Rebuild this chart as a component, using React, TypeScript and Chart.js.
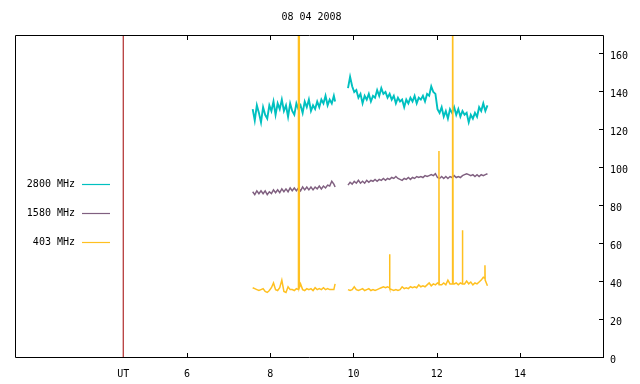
import React, { useEffect, useRef } from 'react';
import { Chart, registerables } from 'chart.js';

Chart.register(...registerables);

const TITLE = '08 04 2008';
const FONT = 'DejaVu Sans Mono';
const seriesNames = ['2800 MHz', '1580 MHz', '403 MHz'];
const seriesColors = ['#00c0c0', '#806080', '#ffc020'];
const markerColor = '#a00000';
const utHour = 4.47;
const xMin = 1.87;
const xMax = 16.02;
const xTickValues = [6, 8, 10, 12, 14];
const yTickValues = [0, 20, 40, 60, 80, 100, 120, 140, 160];
const yMax = 170;

// sample times (UT hours), two observing blocks
const times1 = [
  7.58, 7.63, 7.68, 7.73, 7.78, 7.83, 7.88, 7.93, 7.98, 8.03,
  8.08, 8.13, 8.18, 8.23, 8.28, 8.33, 8.38, 8.43, 8.48, 8.53,
  8.58, 8.63, 8.68, 8.73, 8.78, 8.83, 8.88, 8.93, 8.98, 9.03,
  9.08, 9.13, 9.18, 9.23, 9.28, 9.33, 9.38, 9.43, 9.48, 9.53, 9.56,
];
const times2 = [
  9.87, 9.92, 9.97, 10.02, 10.07, 10.12, 10.17, 10.22, 10.27, 10.32,
  10.37, 10.42, 10.47, 10.52, 10.57, 10.62, 10.67, 10.72, 10.77, 10.82,
  10.87, 10.92, 10.97, 11.02, 11.07, 11.12, 11.17, 11.22, 11.27, 11.32,
  11.37, 11.42, 11.47, 11.52, 11.57, 11.62, 11.67, 11.72, 11.77, 11.82,
  11.87, 11.92, 11.97, 12.02, 12.07, 12.12, 12.17, 12.22, 12.27, 12.32,
  12.37, 12.42, 12.47, 12.52, 12.57, 12.62, 12.67, 12.72, 12.77, 12.82,
  12.87, 12.92, 12.97, 13.02, 13.07, 13.12, 13.17, 13.22,
];

const f2800a = [
  131, 125, 133, 129, 124, 132, 128, 126, 133, 130,
  135, 128, 134, 131, 136, 130, 133, 127, 134, 130,
  128, 134, 131, 133, 129, 135, 132, 136, 130, 133,
  131, 135, 132, 136, 134, 138, 133, 136, 134, 138, 135,
];
const f2800b = [
  142, 148, 143, 140, 141, 137, 139, 134, 138, 136,
  139, 135, 138, 137, 141, 138, 142, 139, 140, 137,
  139, 136, 138, 134, 137, 135, 136, 132, 136, 134,
  137, 135, 138, 134, 137, 136, 138, 135, 139, 138,
  143, 140, 139, 131, 129, 132, 127, 130, 126, 131,
  129, 132, 128, 131, 127, 130, 128, 129, 124, 128,
  126, 129, 127, 132, 130, 134, 130, 133,
];

const f1580a = [
  87.5, 86, 88, 86.5, 88, 86.5, 88, 86, 87.5, 86.5,
  88.5, 87, 88.5, 87, 89, 87.5, 89, 87.5, 89.5, 88,
  89.5, 88, 89.5, 88, 90, 88.5, 90, 88.5, 90, 88.5,
  90, 89, 90.5, 89, 90.5, 89.5, 91, 90.5, 93, 91.5, 90,
];
const f1580b = [
  91, 92.5, 91.5, 93, 92, 93.5, 92, 93, 92, 93.5,
  92.5, 93.5, 93, 94, 93, 94, 93.5, 94.5, 93.5, 94.5,
  94, 95, 94.5, 95.5, 94.5, 94, 93.5, 94.5, 94, 95,
  94, 95, 94.5, 95.5, 95, 95.5, 95, 96, 95.5, 96,
  96.5, 96, 97, 95, 94.5, 95.5, 94.5, 95.5, 94.5, 95.5,
  95, 96, 95, 95.5, 95, 96, 96.5, 97, 96.5, 96,
  96.5, 95.5, 96.5, 95.5, 96.5, 96, 96.5, 97,
];

// 403 MHz has its own time stamps (extra samples around the bursts)
const times403a = [
  7.58, 7.63, 7.68, 7.73, 7.78, 7.83, 7.88, 7.93, 7.98, 8.03,
  8.08, 8.13, 8.18, 8.23, 8.28, 8.33, 8.38, 8.43, 8.48, 8.53,
  8.58, 8.63, 8.675, 8.68, 8.695, 8.70,
  8.73, 8.78, 8.83, 8.88, 8.93, 8.98, 9.03, 9.08, 9.13, 9.18,
  9.23, 9.28, 9.33, 9.38, 9.43, 9.48, 9.53, 9.56,
];
const f403a = [
  37, 36.5, 36, 35.5, 36, 36.5, 35, 34.5, 35.5, 37,
  39.5, 36, 35.5, 37, 41, 35, 34.5, 37.5, 36, 36,
  35.5, 36.5, 36, 250, 250, 37,
  39, 36, 35.5, 36.5, 36, 36.5, 35.5, 37, 36, 36.5,
  36, 37, 36, 36.5, 36, 36, 36, 39,
];
const times403b = [
  9.87, 9.92, 9.97, 10.02, 10.07, 10.12, 10.17, 10.22, 10.27, 10.32,
  10.37, 10.42, 10.47, 10.52, 10.57, 10.62, 10.67, 10.72, 10.77, 10.82,
  10.865, 10.87, 10.875,
  10.92, 10.97, 11.02, 11.07, 11.12, 11.17, 11.22, 11.27, 11.32, 11.37,
  11.42, 11.47, 11.52, 11.57, 11.62, 11.67, 11.72, 11.77, 11.82, 11.87,
  11.92, 11.97, 12.02,
  12.05, 12.055, 12.06,
  12.12, 12.17, 12.22, 12.27, 12.32,
  12.37, 12.375, 12.39, 12.395,
  12.42, 12.47, 12.52, 12.57,
  12.615, 12.62, 12.625,
  12.67, 12.72, 12.77, 12.82, 12.87, 12.92, 12.97, 13.02, 13.07, 13.12,
  13.155, 13.16, 13.165,
  13.22,
];
const f403b = [
  36, 35.5, 36, 37.5, 36, 35.5, 36, 36.5, 35.5, 36,
  36.5, 35.5, 36, 35.5, 36, 36.5, 37, 37.5, 37, 37.5,
  37, 54.6, 36.5,
  36, 35.5, 36, 35.5, 36, 37.5, 36.5, 37, 36.5, 37.5,
  37, 37.5, 37, 38.5, 37.5, 38, 37.5, 38.5, 39.5, 38,
  39, 38.5, 39.5,
  39, 109, 38.5,
  38.5, 39.5, 38.5, 41, 39,
  39, 250, 250, 39,
  39, 39.5, 38.5, 39.5,
  39, 67.3, 39,
  39, 40.5, 39, 40, 38.5, 39.5, 39, 40, 41, 42.5,
  42, 48.8, 41,
  38,
];

const gapTime = 9.7;

function buildSeries(ta: number[], a: number[], tb: number[], b: number[]) {
  const pts: { x: number; y: number | null }[] = [];
  ta.forEach((t, i) => pts.push({ x: t, y: a[i] }));
  pts.push({ x: gapTime, y: null });
  tb.forEach((t, i) => pts.push({ x: t, y: b[i] }));
  return pts;
}

const framePlugin = {
  id: 'frame',
  afterDraw(chart: any) {
    const { ctx, chartArea, scales } = chart;
    const { left, right, top, bottom } = chartArea;
    ctx.save();
    ctx.strokeStyle = '#000';
    ctx.lineWidth = 1;
    ctx.beginPath();
    ctx.rect(left + 0.5, top + 0.5, right - left - 1, bottom - top - 1);
    xTickValues.forEach((v) => {
      const px = Math.round(scales.x.getPixelForValue(v)) + 0.5;
      ctx.moveTo(px, bottom);
      ctx.lineTo(px, bottom - 5);
      ctx.moveTo(px, top);
      ctx.lineTo(px, top + 5);
    });
    yTickValues.forEach((v) => {
      const py = Math.round(scales.y.getPixelForValue(v)) - 0.5;
      ctx.moveTo(right, py);
      ctx.lineTo(right - 5, py);
    });
    ctx.stroke();

    ctx.font = `10px "${FONT}"`;
    ctx.fillStyle = '#000';
    ctx.textBaseline = 'middle';
    ctx.textAlign = 'center';
    ctx.fillText(TITLE, (left + right) / 2 + 2, 17);

    // key
    ctx.textAlign = 'right';
    seriesNames.forEach((name, i) => {
      const y = 184 + i * 29;
      ctx.fillText(name, 75, y);
      ctx.strokeStyle = seriesColors[i];
      ctx.lineWidth = 1.2;
      ctx.beginPath();
      ctx.moveTo(82, y + 0.5);
      ctx.lineTo(110, y + 0.5);
      ctx.stroke();
    });
    ctx.restore();
  },
};

export default function App() {
  const ref = useRef<HTMLCanvasElement>(null);
  useEffect(() => {
    if (!ref.current) return;
    const font = { family: FONT, size: 10 };
    const lineBase = { borderWidth: 1.5, pointRadius: 0, spanGaps: false, tension: 0 };
    const chart = new Chart(ref.current, {
      type: 'line',
      data: {
        datasets: [
          {
            label: seriesNames[2],
            data: buildSeries(times403a, f403a, times403b, f403b),
            borderColor: seriesColors[2],
            ...lineBase,
          },
          {
            label: seriesNames[1],
            data: buildSeries(times1, f1580a, times2, f1580b),
            borderColor: seriesColors[1],
            ...lineBase,
          },
          {
            label: seriesNames[0],
            data: buildSeries(times1, f2800a, times2, f2800b),
            borderColor: seriesColors[0],
            ...lineBase,
            borderWidth: 1.9,
          },
          {
            label: 'UT',
            data: [
              { x: utHour, y: 0 },
              { x: utHour, y: yMax },
            ],
            borderColor: markerColor,
            borderWidth: 1,
            pointRadius: 0,
          },
        ],
      },
      options: {
        animation: false,
        responsive: false,
        events: [],
        layout: { padding: { left: 15, right: 0, top: 35, bottom: 0 } },
        plugins: {
          legend: { display: false },
          tooltip: { enabled: false },
          title: { display: false },
        },
        scales: {
          x: {
            type: 'linear',
            min: xMin,
            max: xMax,
            afterBuildTicks: (s: any) => {
              s.ticks = [utHour, ...xTickValues].map((v) => ({ value: v }));
            },
            afterFit: (s: any) => {
              s.height = 26;
            },
            ticks: {
              autoSkip: false,
              maxRotation: 0,
              color: '#000',
              font,
              padding: 10,
              callback: (v: any) => (v === utHour ? 'UT' : String(v)),
            },
            grid: { display: false, drawTicks: false },
            border: { display: false },
          },
          y: {
            type: 'linear',
            position: 'right',
            min: 0,
            max: yMax,
            afterBuildTicks: (s: any) => {
              s.ticks = yTickValues.map((v) => ({ value: v }));
            },
            afterFit: (s: any) => {
              s.width = 36;
            },
            ticks: { color: '#000', font, padding: 6, labelOffset: 2 },
            grid: { display: false, drawTicks: false },
            border: { display: false },
          },
        },
      },
      plugins: [framePlugin],
    } as any);
    return () => chart.destroy();
  }, []);
  return (
    <div style={{ position: 'absolute', left: 0, top: 0, width: 640, height: 384, background: '#fff' }}>
      <canvas ref={ref} width={640} height={384} style={{ display: 'block' }} />
    </div>
  );
}
